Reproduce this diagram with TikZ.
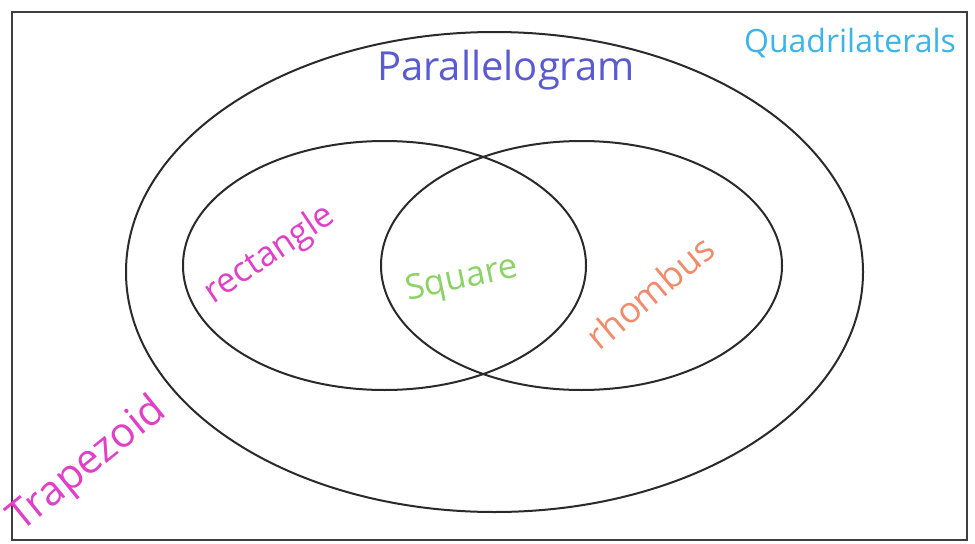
\documentclass[tikz,border=0pt]{standalone}
\usepackage{fontspec}
\usetikzlibrary{shapes.geometric}
\setmainfont{Open Sans}
\definecolor{parcol}{HTML}{5A5AD2}
\definecolor{quadcol}{HTML}{3CB4EA}
\definecolor{rectcol}{HTML}{E040C8}
\definecolor{sqcol}{HTML}{8CD264}
\definecolor{rhocol}{HTML}{F08C6C}
\definecolor{linecol}{HTML}{2A2A2A}
\tikzset{
  setline/.style={draw=linecol, line width=1.5pt},
  lbl/.style={inner sep=0pt, font=\fontsize{#1}{#1}\selectfont},
}
\begin{document}
\begin{tikzpicture}[x=0.75pt,y=-0.75pt]
\useasboundingbox (0,0) rectangle (975,543);
\fill[white] (0,0) rectangle (975,543);
\draw[draw=linecol!90, line width=1.6pt] (12,12) rectangle (967,540);
\node[setline, ellipse, minimum width=737*0.75pt, minimum height=480*0.75pt, inner sep=0pt] (outer) at (494.5,272) {};
\node[setline, ellipse, minimum width=403*0.75pt, minimum height=249*0.75pt, inner sep=0pt] (rectset) at (384.5,265.5) {};
\node[setline, ellipse, minimum width=401*0.75pt, minimum height=249*0.75pt, inner sep=0pt] (rhoset) at (581.5,265.5) {};
\node[lbl=30, text=parcol] (par) at (506,70) {Parallelogram};
\node[lbl=24, text=quadcol] (quad) at (850,43) {Quadrilaterals};
\node[lbl=26, text=rectcol, rotate=34] (rect) at (270,255) {rectangle};
\node[lbl=26, text=sqcol, rotate=12] (sq) at (462,280) {Square};
\node[lbl=27, text=rhocol, rotate=40] (rho) at (650,292) {rhombus};
\node[lbl=31, text=rectcol, rotate=39] (trap) at (88,465) {Trapezoid};
\end{tikzpicture}
\end{document}
